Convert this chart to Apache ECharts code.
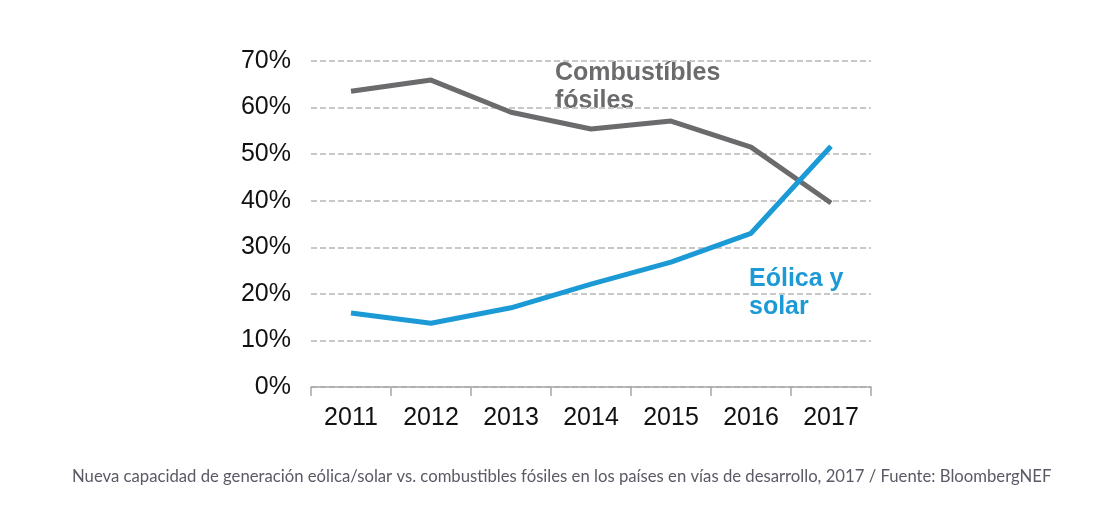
<!DOCTYPE html>
<html><head><meta charset="utf-8">
<script src="https://cdn.jsdelivr.net/npm/echarts@6/dist/echarts.min.js"></script>
<style>html,body{margin:0;padding:0;background:#fff}#c{width:1107px;height:509px}</style>
</head><body><div id="c"></div>
<script>
const years = ['2011','2012','2013','2014','2015','2016','2017'];
const fossil = [63.5, 65.9, 59.0, 55.4, 57.1, 51.5, 39.5];
const windSolar = [15.9, 13.7, 17.0, 22.1, 26.8, 33.0, 51.7];
const fossilLabel = 'Combustíbles\nfósiles';
const windLabel = 'Eólica y\nsolar';
const caption = 'Nueva capacidad de generación eólica/solar vs. combustibles fósiles en los países en vías de desarrollo, 2017 / Fuente: BloombergNEF';

const chart = echarts.init(document.getElementById('c'));
chart.setOption({
  backgroundColor: '#fff',
  animation: false,
  grid: {left: 311, right: 236, top: 61, bottom: 122},
  title: {
    text: caption, left: 67, top: 463,
    textStyle: {fontFamily: 'Lato', fontSize: 16.7, fontWeight: 'normal', color: '#5a5a66'}
  },
  xAxis: {
    type: 'category', data: years, boundaryGap: true,
    axisLine: {lineStyle: {color: '#a6a6a6', width: 1.5}},
    axisTick: {show: true, length: 9, inside: false, lineStyle: {color: '#a6a6a6', width: 1.5}},
    axisLabel: {fontFamily: 'Liberation Sans', fontSize: 25, color: '#111', margin: 19}
  },
  yAxis: {
    type: 'value', min: 0, max: 70, interval: 10,
    axisLine: {show: false}, axisTick: {show: false},
    axisLabel: {formatter: '{value}%', fontFamily: 'Liberation Sans', fontSize: 25, color: '#111', margin: 20},
    splitLine: {show: true, lineStyle: {color: '#c8c8c8', width: 2, type: [6, 3]}}
  },
  series: [
    {type: 'line', data: fossil, symbol: 'none', lineStyle: {color: '#6b6b6d', width: 5}, z: 3},
    {type: 'line', data: windSolar, symbol: 'none', lineStyle: {color: '#1c9ad6', width: 5}, z: 4}
  ],
  graphic: [
    {type: 'text', left: 555, top: 59, style: {text: fossilLabel, fontFamily: 'Liberation Sans', fontWeight: 'bold', fontSize: 25, lineHeight: 28, fill: '#6b6b6d'}},
    {type: 'text', left: 749, top: 265, style: {text: windLabel, fontFamily: 'Liberation Sans', fontWeight: 'bold', fontSize: 25, lineHeight: 28, fill: '#1c9ad6'}}
  ]
});
</script></body></html>
